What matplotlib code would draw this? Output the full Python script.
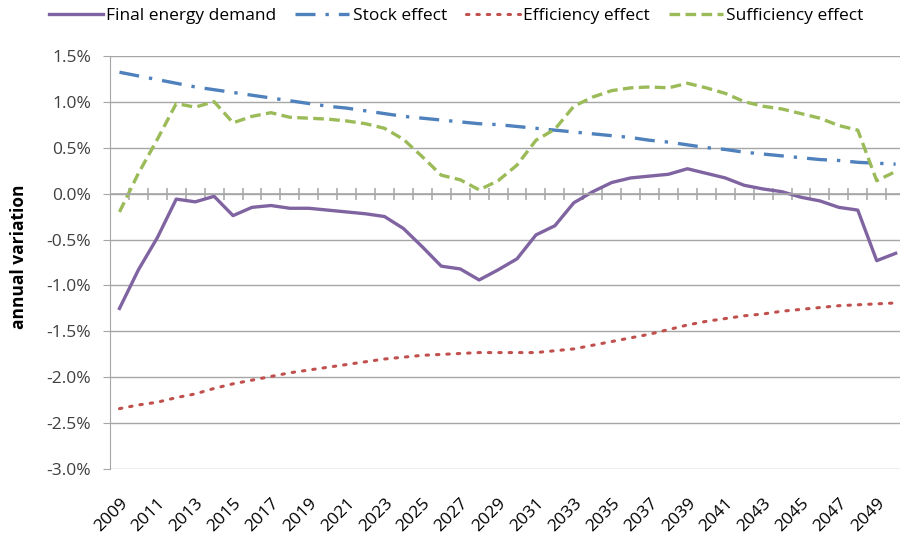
import numpy as np
import matplotlib
matplotlib.use('agg')
import matplotlib.pyplot as plt
from matplotlib.ticker import FuncFormatter

plt.rcParams['font.family'] = ['Open Sans', 'DejaVu Sans']

years = list(range(2009, 2051))

# annual variation, in %
final_demand = [-1.25, -0.83, -0.48, -0.06, -0.09, -0.03, -0.24, -0.15, -0.13, -0.16,
                -0.16, -0.18, -0.20, -0.22, -0.25, -0.38, -0.58, -0.79, -0.82, -0.94,
                -0.83, -0.71, -0.45, -0.35, -0.10, 0.02, 0.12, 0.17, 0.19, 0.21,
                0.27, 0.22, 0.17, 0.09, 0.05, 0.02, -0.04, -0.08, -0.15, -0.18,
                -0.73, -0.65]
stock = [1.32, 1.28, 1.24, 1.20, 1.16, 1.13, 1.10, 1.07, 1.04, 1.01,
         0.98, 0.95, 0.93, 0.90, 0.87, 0.84, 0.82, 0.80, 0.78, 0.76,
         0.75, 0.73, 0.71, 0.69, 0.67, 0.65, 0.63, 0.61, 0.58, 0.56,
         0.53, 0.50, 0.48, 0.45, 0.43, 0.41, 0.39, 0.37, 0.36, 0.34,
         0.33, 0.32]
efficiency = [-2.34, -2.30, -2.27, -2.22, -2.18, -2.12, -2.07, -2.03, -1.99, -1.95,
              -1.92, -1.89, -1.86, -1.83, -1.80, -1.78, -1.76, -1.75, -1.74, -1.73,
              -1.73, -1.73, -1.73, -1.71, -1.69, -1.65, -1.61, -1.57, -1.53, -1.48,
              -1.43, -1.39, -1.36, -1.33, -1.31, -1.28, -1.26, -1.24, -1.22, -1.21,
              -1.20, -1.19]
sufficiency = [-0.20, 0.22, 0.59, 0.98, 0.94, 1.00, 0.77, 0.84, 0.88, 0.83,
               0.82, 0.81, 0.79, 0.76, 0.71, 0.59, 0.40, 0.20, 0.15, 0.04,
               0.14, 0.31, 0.58, 0.70, 0.95, 1.05, 1.12, 1.15, 1.16, 1.15,
               1.20, 1.15, 1.09, 1.00, 0.95, 0.92, 0.87, 0.82, 0.74, 0.69,
               0.14, 0.24]

x = np.arange(len(years))
grid_col = '#a6a6a6'
fs = 12.5

fig = plt.figure(figsize=(9, 5.35), dpi=100)
ax = fig.add_axes([110/900, 1-469.3/535, 1-110/900, (469.3-55.7)/535])

ax.plot(x, final_demand, color='#8064a2', lw=2.4, label='Final energy demand',
        solid_joinstyle='round')
ax.plot(x, stock, color='#4f81bd', lw=2.4, dashes=(6, 3, 1, 3), label='Stock effect')
ax.plot(x, efficiency, color='#c0504d', lw=2.2, dashes=(0.8, 2.6), dash_capstyle='round',
        label='Efficiency effect')
ax.plot(x, sufficiency, color='#9bbb59', lw=2.4, dashes=(3.2, 1.6), label='Sufficiency effect')

ax.set_xlim(-0.5, 41.23)
ax.set_ylim(-3.0, 1.5)
ax.set_yticks(np.arange(-3.0, 1.51, 0.5))
ax.yaxis.set_major_formatter(FuncFormatter(lambda v, p: '{:.1f}%'.format(v)))
ax.grid(axis='y', color=grid_col, lw=1)
ax.set_axisbelow(True)
ax.tick_params(axis='y', length=5, color=grid_col, labelsize=fs, labelcolor='#404040', pad=8.5)

for s in ['top', 'right', 'bottom']:
    ax.spines[s].set_visible(False)
ax.spines['left'].set_color(grid_col)

# year labels at bottom, every other year
ax.set_xticks(x[::2])
ax.set_xticklabels([str(y) for y in years[::2]], rotation=45, ha='right',
                   rotation_mode='anchor', fontsize=fs)
ax.tick_params(axis='x', length=0, pad=19)

# horizontal axis crossing at 0 with category tick marks
ax.axhline(0, color=grid_col, lw=1.2)
ax.plot(np.arange(0.5, 42, 1), np.zeros(42), ls='none', marker='|', ms=9,
        mec=grid_col, mew=1.1, zorder=1.5)

fig.text(19/900, 1-257/535, 'annual variation', rotation=90, ha='center', va='center',
         fontsize=fs, fontweight='bold')

fig.legend(loc='upper center', ncol=4, frameon=False, fontsize=fs,
           bbox_to_anchor=(0.507, 1.015), handlelength=3.1, columnspacing=1.1,
           handletextpad=0.2)

fig.savefig('out.png', dpi=100)
